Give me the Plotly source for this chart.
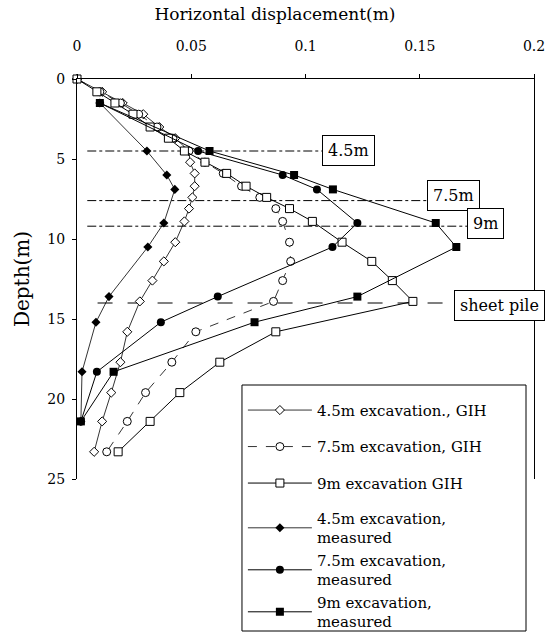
import plotly.graph_objects as go

# computed profiles (GIH) - depth in m, horizontal displacement in m
gih_depth = [0, 0.8, 1.5, 2.2, 3.0, 3.7, 4.5, 5.2, 5.9, 6.7, 7.4, 8.1, 8.9,
             10.2, 11.4, 12.6, 13.9, 15.8, 17.7, 19.6, 21.4, 23.3]
gih_45 = [0, 0.011, 0.020, 0.029, 0.036, 0.043, 0.049, 0.0495, 0.0515, 0.0515,
          0.0505, 0.049, 0.047, 0.043, 0.038, 0.033, 0.0275, 0.022, 0.019,
          0.015, 0.011, 0.0075]
gih_75 = [0, 0.010, 0.019, 0.027, 0.035, 0.042, 0.049, 0.056, 0.064, 0.072,
          0.080, 0.087, 0.090, 0.093, 0.0935, 0.090, 0.086, 0.052, 0.0415,
          0.030, 0.022, 0.013]
gih_9 = [0, 0.0087, 0.0166, 0.0245, 0.032, 0.040, 0.047, 0.056, 0.0655, 0.074,
         0.083, 0.093, 0.103, 0.116, 0.129, 0.138, 0.147, 0.087, 0.0625,
         0.045, 0.032, 0.018]

# inclinometer readings
meas_depth = [1.5, 4.5, 6.0, 6.9, 9.0, 10.5, 13.6, 15.2, 18.3, 21.4]
meas_45 = [0.010, 0.0306, 0.0393, 0.0428, 0.038, 0.031, 0.014, 0.0083, 0.0022, 0.0017]
meas_75 = [0.010, 0.053, 0.090, 0.105, 0.1227, 0.1118, 0.0616, 0.0367, 0.0087, 0.0017]
meas_9 = [0.010, 0.058, 0.095, 0.112, 0.157, 0.166, 0.1227, 0.0777, 0.016, 0.0017]

exc_levels = [4.5, 7.6, 9.2]
exc_labels = ['4.5m', '7.5m', '9m']
pile_toe = 14.0

x_ticks = [0, 0.05, 0.1, 0.15, 0.2]
x_ticktext = ['0', '0.05', '0.1', '0.15', '0.2']
y_ticks = [0, 5, 10, 15, 20, 25]

FONT = 'DejaVu Serif'

fig = go.Figure()

# excavation levels and sheet pile toe
line_ends = [0.108, 0.153, 0.171]
for lvl, xe in zip(exc_levels, line_ends):
    fig.add_trace(go.Scatter(x=[0.0045, xe], y=[lvl, lvl], mode='lines', showlegend=False,
                             line=dict(color='black', width=1, dash='dashdot'), hoverinfo='skip'))
fig.add_trace(go.Scatter(x=[0.009, 0.164], y=[pile_toe, pile_toe], mode='lines', showlegend=False,
                         line=dict(color='black', width=1.2, dash='longdash'), hoverinfo='skip'))

def open_mk(sym, size):
    return dict(symbol=sym, size=size, color='white', line=dict(color='black', width=1))

def full_mk(sym, size):
    return dict(symbol=sym, size=size, color='black', line=dict(color='black', width=0))

# GIH curves go to the first legend, measured ones to the second
fig.add_trace(go.Scatter(x=gih_45, y=gih_depth, mode='lines+markers', name='4.5m excavation., GIH',
                         line=dict(color='black', width=0.8), marker=open_mk('diamond', 7),
                         cliponaxis=False, legendgroup='a', legend='legend'))
fig.add_trace(go.Scatter(x=gih_75, y=gih_depth, mode='lines+markers', name='7.5m excavation, GIH',
                         line=dict(color='black', width=0.8, dash='dash'), marker=open_mk('circle', 8),
                         cliponaxis=False, legendgroup='b', legend='legend'))
fig.add_trace(go.Scatter(x=gih_9, y=gih_depth, mode='lines+markers', name='9m excavation GIH',
                         line=dict(color='black', width=1), marker=open_mk('square', 8),
                         cliponaxis=False, legendgroup='c', legend='legend'))
fig.add_trace(go.Scatter(x=meas_45, y=meas_depth, mode='lines+markers', name='4.5m excavation,<br>measured',
                         line=dict(color='black', width=0.8), marker=full_mk('diamond', 7),
                         cliponaxis=False, legendgroup='d', legend='legend2'))
fig.add_trace(go.Scatter(x=meas_75, y=meas_depth, mode='lines+markers', name='7.5m excavation,<br>measured',
                         line=dict(color='black', width=1), marker=full_mk('circle', 8),
                         cliponaxis=False, legendgroup='e', legend='legend2'))
fig.add_trace(go.Scatter(x=meas_9, y=meas_depth, mode='lines+markers', name='9m excavation,<br>measured',
                         line=dict(color='black', width=1), marker=full_mk('square', 8),
                         cliponaxis=False, legendgroup='f', legend='legend2'))

# boxed labels
label_pos = [(0.119, 4.45), (0.1646, 7.25), (0.1788, 9.03)]
for (lx, ly), txt in zip(label_pos, exc_labels):
    fig.add_annotation(x=lx, y=ly, text=txt, showarrow=False, font=dict(family=FONT, size=16, color='black'),
                       bordercolor='black', borderwidth=1, borderpad=5, bgcolor='white')
fig.add_annotation(x=0.1847, y=14.16, text='sheet pile', showarrow=False,
                   font=dict(family=FONT, size=16, color='black'),
                   bordercolor='black', borderwidth=1, borderpad=5, bgcolor='white')

# frame around both legends
fig.add_shape(type='rect', xref='paper', yref='paper', x0=0.361, x1=0.9825, y0=-0.38, y1=0.235,
              line=dict(color='black', width=1), fillcolor='white', layer='above')

leg_common = dict(xanchor='left', yanchor='top', bgcolor='rgba(0,0,0,0)', borderwidth=0,
                  font=dict(family=FONT, size=15, color='black'), itemwidth=64, traceorder='grouped')

fig.update_layout(
    width=552, height=632,
    margin=dict(l=77, r=18, t=79, b=153, autoexpand=False),
    paper_bgcolor='white', plot_bgcolor='white',
    font=dict(family=FONT, size=14, color='black'),
    title=dict(text='Horizontal displacement(m)', x=0.498, xanchor='center', y=0.977, yanchor='middle',
               font=dict(family=FONT, size=17)),
    legend=dict(x=0.363, y=0.213, tracegroupgap=14, **leg_common),
    legend2=dict(x=0.363, y=-0.057, tracegroupgap=0, **leg_common),
    showlegend=True,
)
fig.update_xaxes(range=[0, 0.2], side='top', tickvals=x_ticks, ticktext=x_ticktext,
                 showline=True, linecolor='black', linewidth=1, ticks='outside', ticklen=4,
                 tickcolor='black', showgrid=False, zeroline=False, ticklabelstandoff=17,
                 automargin=False)
fig.update_yaxes(range=[25, 0], tickvals=y_ticks, showline=True, mirror=True, linecolor='black',
                 linewidth=1, ticks='outside', ticklen=4, tickcolor='black', showgrid=False,
                 zeroline=False, ticklabelstandoff=4, automargin=False,
                 title=dict(text='Depth(m)', font=dict(family=FONT, size=20), standoff=12))

fig.write_html("out.html", config={'displayModeBar': False},
               post_script="document.body.style.margin='0px';")
